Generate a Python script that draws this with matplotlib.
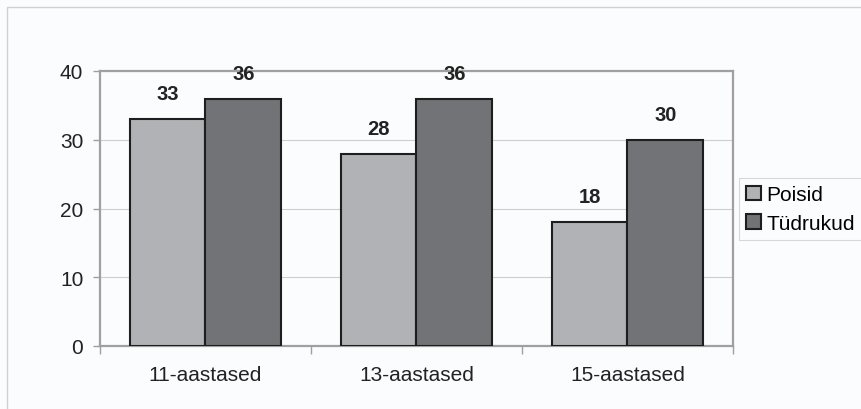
import matplotlib
matplotlib.use("Agg")
import matplotlib.pyplot as plt
from matplotlib.patches import Rectangle
import numpy as np

plt.rcParams['font.family'] = ['Liberation Sans', 'DejaVu Sans']

categories = ["11-aastased", "13-aastased", "15-aastased"]
poisid = [33, 28, 18]
tudrukud = [36, 36, 30]
series_names = ["Poisid", "Tüdrukud"]
yticks = [0, 10, 20, 30, 40]

c_p = "#b1b2b6"
c_t = "#727377"
bg = "#fbfcfd"
txt = "#222222"

fig = plt.figure(figsize=(8.62, 4.10), dpi=100)
fig.patch.set_facecolor(bg)
fig.add_artist(Rectangle((7/862, -0.1), 2, 1 - 8/410 + 0.1, transform=fig.transFigure,
                         fill=False, edgecolor="#cfd0d2", linewidth=1.0))

ax = fig.add_axes([100/862, 1 - 347/410, 633/862, 275/410])
ax.set_facecolor(bg)
x = np.arange(len(categories))
w = 0.36
b1 = ax.bar(x - w/2, poisid, w, color=c_p, edgecolor="#1e1e1e", linewidth=1.5, label=series_names[0], zorder=3)
b2 = ax.bar(x + w/2, tudrukud, w, color=c_t, edgecolor="#1e1e1e", linewidth=1.5, label=series_names[1], zorder=3)
for bars, vals in ((b1, poisid), (b2, tudrukud)):
    for r, v in zip(bars, vals):
        ax.text(r.get_x() + r.get_width()/2, v + 2.3, str(v), ha="center", va="bottom",
                fontsize=14.5, fontweight="bold", color=txt, zorder=4)

ax.set_xlim(-0.5, 2.5)
ax.set_ylim(0, 40)
ax.set_yticks(yticks)
ax.set_yticklabels([str(t) for t in yticks], fontsize=15, color=txt)
ax.yaxis.grid(True, color="#cdcecf", linewidth=0.8, zorder=0)
ax.set_xticks(x)
ax.set_xticklabels(categories, fontsize=15, color=txt)
ax.tick_params(axis="x", length=0, pad=14)
ax.set_xticks([0.5, 1.5, 2.5, -0.5], minor=True)
ax.tick_params(axis="x", which="minor", length=6, color="#a0a0a0", width=1)
ax.tick_params(axis="y", length=5, color="#a0a0a0", width=1, pad=7)
for s in ax.spines.values():
    s.set_color("#a0a0a0")
    s.set_linewidth(1.6)

leg = fig.legend(handles=[b1, b2], labels=series_names, loc="center left",
                 bbox_to_anchor=(739/862, 1 - 210/410), fontsize=15, frameon=True,
                 fancybox=False, edgecolor="#cdcecf", facecolor=bg,
                 handlelength=0.7, handleheight=0.7, handletextpad=0.25, borderpad=0.35,
                 labelspacing=0.45, borderaxespad=0)
leg.get_frame().set_linewidth(0.8)

fig.savefig("out.png", dpi=100, facecolor=bg)
